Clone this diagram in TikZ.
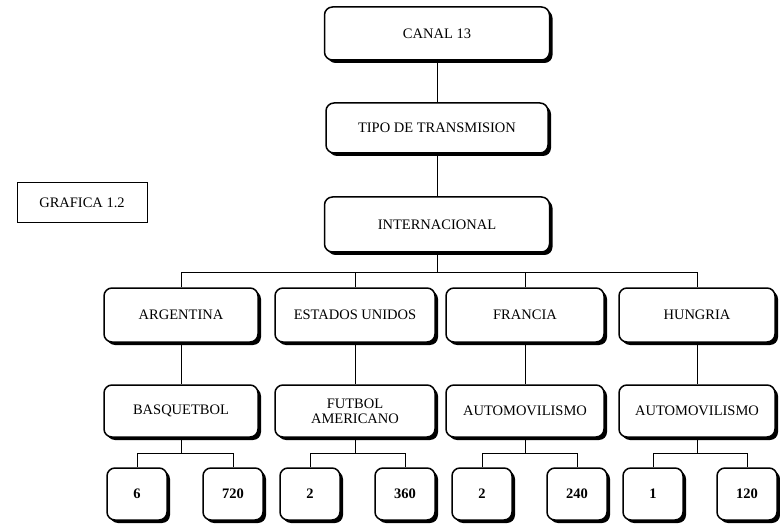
\documentclass[tikz,border=0pt]{standalone}
\usepackage{fontspec}
\setmainfont{Liberation Serif}
\usetikzlibrary{shadows}

\begin{document}
\begin{tikzpicture}[x=1pt,y=-1pt,
    caja/.style={draw, line width=1.5pt, rounded corners=8pt, fill=white,
      drop shadow={opacity=1, fill=black, shadow xshift=3pt, shadow yshift=-3pt},
      inner sep=2pt, align=center, font=\fontsize{14.5}{15}\selectfont},
    pais/.style={caja, minimum height=54pt},
    hoja/.style={caja, minimum width=60pt, minimum height=52pt,
      font=\fontsize{14.5}{15}\selectfont\bfseries},
    linea/.style={line width=1pt}]
  \useasboundingbox (0,0) rectangle (780,524);
  %
  \node[caja, minimum width=225pt, minimum height=53pt] (canal) at (437,33.5) {CANAL 13};
  \node[caja, minimum width=222pt, minimum height=50pt] (tipo) at (437,128) {TIPO DE TRANSMISION};
  \node[caja, minimum width=225pt, minimum height=55pt] (inter) at (437,224.5) {INTERNACIONAL};
  \node[draw, line width=1pt, minimum width=130pt, minimum height=40pt,
    font=\fontsize{14.5}{15}\selectfont] (grafica) at (82,203) {GRAFICA 1.2};
  %
  \node[pais, minimum width=154pt] (arg) at (181,315) {ARGENTINA};
  \node[pais, minimum width=160pt] (est) at (355,315) {ESTADOS UNIDOS};
  \node[pais, minimum width=158pt] (fra) at (525,315) {FRANCIA};
  \node[pais, minimum width=156pt] (hun) at (697,315) {HUNGRIA};
  %
  \node[pais, minimum width=154pt, minimum height=52pt] (bas) at (181,411) {BASQUETBOL};
  \node[pais, minimum width=160pt, minimum height=52pt] (fut) at (355,411) {FUTBOL\\AMERICANO};
  \node[pais, minimum width=158pt, minimum height=52pt] (aut1) at (525,411) {AUTOMOVILISMO};
  \node[pais, minimum width=156pt, minimum height=52pt] (aut2) at (697,411) {AUTOMOVILISMO};
  %
  \node[hoja] (l1) at (137,494) {6};
  \node[hoja] (l2) at (233,494) {720};
  \node[hoja] (l3) at (310,494) {2};
  \node[hoja] (l4) at (405,494) {360};
  \node[hoja] (l5) at (482,494) {2};
  \node[hoja] (l6) at (577,494) {240};
  \node[hoja] (l7) at (653,494) {1};
  \node[hoja] (l8) at (747,494) {120};
  %
  \draw[linea] (canal) -- (tipo);
  \draw[linea] (tipo) -- (inter);
  \coordinate (bus) at (437,272);
  \draw[linea] (inter.south) -- (bus);
  \draw[linea] (arg.north) -- (arg.north |- bus) -- (hun.north |- bus) -- (hun.north);
  \draw[linea] (est.north) -- (est.north |- bus);
  \draw[linea] (fra.north) -- (fra.north |- bus);
  %
  \draw[linea] (arg) -- (bas);
  \draw[linea] (est) -- (fut);
  \draw[linea] (fra) -- (aut1);
  \draw[linea] (hun) -- (aut2);
  %
  \foreach \s/\a/\b in {bas/l1/l2, fut/l3/l4, aut1/l5/l6, aut2/l7/l8} {
    \draw[linea] (\s.south) -- ++(0,16) coordinate (m);
    \draw[linea] (\a.north) |- (m) -| (\b.north);
  }
\end{tikzpicture}
\end{document}
